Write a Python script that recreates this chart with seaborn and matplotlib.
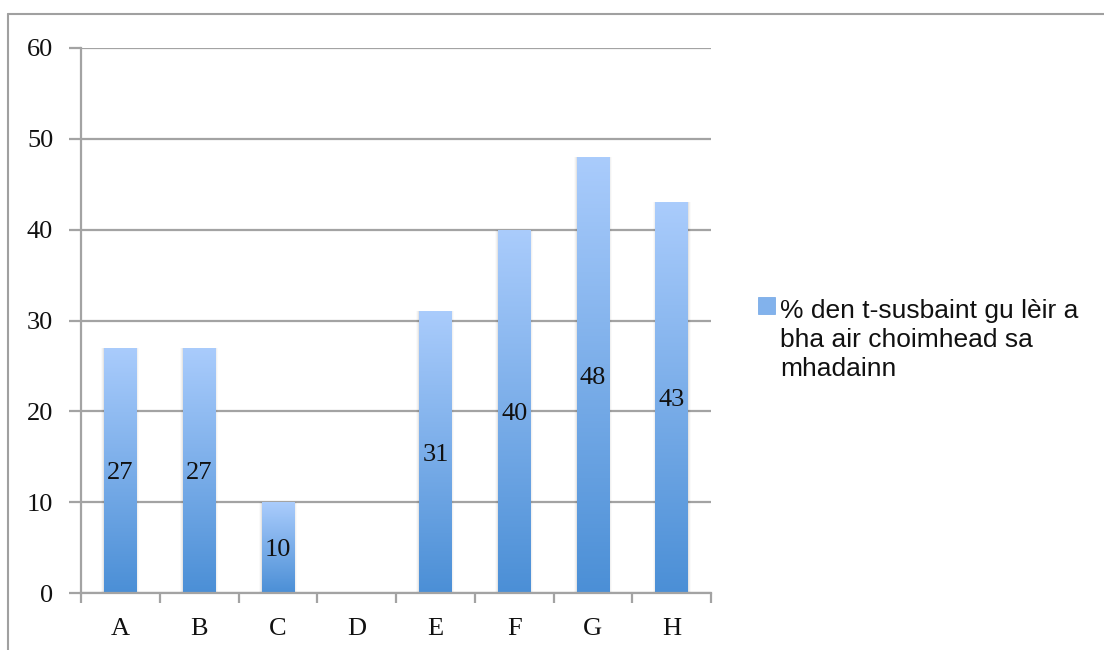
import numpy as np
import pandas as pd
import matplotlib
matplotlib.use("Agg")
import matplotlib.pyplot as plt
import matplotlib.patches as mpatches
from matplotlib.lines import Line2D
from matplotlib.colors import LinearSegmentedColormap
import seaborn as sns

# Chart data
categories = ["A", "B", "C", "D", "E", "F", "G", "H"]
values = [27, 27, 10, 0, 31, 40, 48, 43]
series_name = "% den t-susbaint gu lèir a\nbha air choimhead sa\nmhadainn"
y_ticks = [0, 10, 20, 30, 40, 50, 60]

df = pd.DataFrame({"category": categories, "value": values})

sns.set_theme(style="white")
plt.rcParams["font.family"] = ["Liberation Serif", "DejaVu Serif"]

W, H = 1104, 650
grid_col = "#a3a3a3"
top_col = "#aaccfc"
bottom_col = "#4b8fd6"
grad = LinearSegmentedColormap.from_list("bar_grad", [bottom_col, top_col])

fig = plt.figure(figsize=(W / 100, H / 100), dpi=100)
ax = fig.add_axes([81 / W, 1 - 593 / H, (711 - 81) / W, (593 - 48) / H])

sns.barplot(data=df, x="category", y="value", ax=ax, width=0.41,
            color=bottom_col, saturation=1, zorder=3)

ax.set_ylim(0, 60)
ax.set_xlim(-0.5, len(categories) - 0.5)

# vertical gradient fill + soft side shadow for each bar
for p, v in zip(ax.patches, values):
    x0, w, h = p.get_x(), p.get_width(), p.get_height()
    if h <= 0:
        p.set_visible(False)
        continue
    for k, a in enumerate([0.05, 0.035, 0.02]):
        sh = mpatches.Rectangle((x0 - 0.012 * (k + 1), 0), w + 0.024 * (k + 1),
                                h, facecolor="#000000",
                                alpha=a, edgecolor="none", zorder=2)
        ax.add_patch(sh)
    img = ax.imshow(np.linspace(0, 1, 256).reshape(-1, 1), cmap=grad,
                    extent=[x0, x0 + w, 0, h], origin="lower",
                    aspect="auto", zorder=3.5, interpolation="bilinear")
    img.set_clip_path(p)
    p.set_facecolor("none")
    p.set_edgecolor("none")
    ax.text(x0 + w / 2, h / 2, f"{v}", ha="center", va="center_baseline",
            fontsize=19, color="#111111", zorder=5)

ax.set_aspect("auto")

# gridlines, spines and ticks
ax.set_yticks(y_ticks)
ax.yaxis.grid(True, color=grid_col, linewidth=1.6, zorder=1)
ax.xaxis.grid(False)
for s in ["top", "right"]:
    ax.spines[s].set_visible(False)
for s in ["left", "bottom"]:
    ax.spines[s].set_color(grid_col)
    ax.spines[s].set_linewidth(1.6)
    ax.spines[s].set_zorder(4)

ax.set_xticks(np.arange(len(categories)))
ax.set_xticklabels(categories)
ax.set_xticks(np.arange(-0.5, len(categories)), minor=True)
ax.tick_params(axis="x", which="major", length=0, pad=18, labelsize=19,
               labelcolor="#111111")
ax.tick_params(axis="x", which="minor", length=7, width=1.6, color=grid_col,
               direction="out", bottom=True)
ax.tick_params(axis="y", length=9, width=1.6, color=grid_col, left=True,
               pad=11, labelsize=19, labelcolor="#111111")
ax.set_xlabel("")
ax.set_ylabel("")

# legend: marker square aligned with the first text line
fig.add_artist(mpatches.Rectangle((758 / W, 1 - 314 / H), 17 / W, 17 / H,
                                  transform=fig.transFigure,
                                  facecolor="#82b2ec", edgecolor="#6ea3e4",
                                  linewidth=0.5))
fig.text(780 / W, 1 - 299 / H, series_name, ha="left", va="top",
         fontsize=19, family=["Liberation Sans", "DejaVu Sans"],
         color="#111111", linespacing=1.27)

# outer frame lines
fig.add_artist(Line2D([8 / W, 1.0], [1 - 14 / H, 1 - 14 / H],
                      color="#a0a0a0", linewidth=1.5, transform=fig.transFigure))
fig.add_artist(Line2D([8 / W, 8 / W], [0.0, 1 - 14 / H],
                      color="#a0a0a0", linewidth=1.5, transform=fig.transFigure))

fig.savefig("out.png", dpi=100, facecolor="white")
